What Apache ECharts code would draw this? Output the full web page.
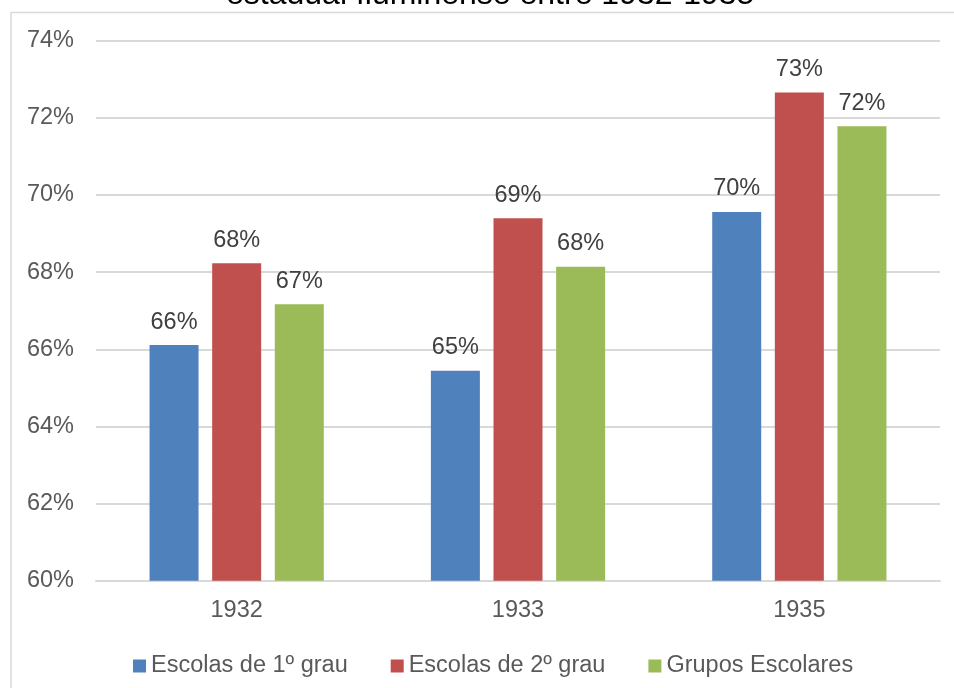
<!DOCTYPE html>
<html>
<head>
<meta charset="utf-8">
<title>Aprovação nas escolas da rede estadual fluminense</title>
<script src="https://cdn.jsdelivr.net/npm/echarts@6/dist/echarts.min.js"></script>
<style>
  html, body { margin: 0; padding: 0; background: #ffffff; }
  #chart { width: 954px; height: 688px; }
</style>
</head>
<body>
<div id="chart"></div>
<script>
// Years shown on the category axis
const years = ['1932', '1933', '1935'];

// Percentage of approved pupils by school type
const escolas1Grau = [66.11, 65.44, 69.56];
const escolas2Grau = [68.23, 69.40, 72.66];
const gruposEscolares = [67.17, 68.14, 71.78];

const seriesNames = ['Escolas de 1º grau', 'Escolas de 2º grau', 'Grupos Escolares'];
const seriesColors = ['#4F81BD', '#C0504D', '#9BBB59'];

// Y axis range (percent)
const yMin = 60, yMax = 74, yStep = 2;

const FONT = '"Liberation Sans", Arial, sans-serif';
const TEXT = '#595959';
const GRID = '#D9D9D9';

const chart = echarts.init(document.getElementById('chart'), null, { renderer: 'canvas' });

function barSeries(name, data, color) {
  return {
    name: name,
    type: 'bar',
    data: data,
    barWidth: 49,
    barGap: '27.8%',
    itemStyle: { color: color },
    label: {
      show: true,
      position: 'top',
      distance: 11,
      color: '#404040',
      fontFamily: FONT,
      fontSize: 23.5,
      formatter: p => Math.round(p.value) + '%'
    }
  };
}

chart.setOption({
  animation: false,
  backgroundColor: '#ffffff',
  color: seriesColors,
  title: {
    text: 'estadual fluminense entre 1932-1935',
    left: 226,
    top: -21,
    padding: 0,
    textStyle: { fontFamily: FONT, fontSize: 32, fontWeight: 'normal', color: '#000000' }
  },
  graphic: [{
    type: 'rect',
    left: 8.5,
    top: 10,
    shape: { width: 1200, height: 1000 },
    style: { fill: 'none', stroke: GRID, lineWidth: 1.5 },
    silent: true
  }],
  grid: { left: 96, right: 14, top: 40.7, bottom: 107.3 },
  legend: {
    data: seriesNames,
    left: 133,
    top: 654,
    padding: 0,
    icon: 'rect',
    itemWidth: 13,
    itemHeight: 13,
    itemGap: 43,
    textStyle: { fontFamily: FONT, fontSize: 23.5, color: TEXT }
  },
  xAxis: {
    type: 'category',
    data: years,
    axisTick: { show: false },
    axisLine: { lineStyle: { color: GRID, width: 2 } },
    axisLabel: { margin: 18, fontFamily: FONT, fontSize: 23.5, color: TEXT }
  },
  yAxis: {
    type: 'value',
    min: yMin,
    max: yMax,
    interval: yStep,
    axisLine: { show: false },
    axisTick: { show: false },
    splitLine: { lineStyle: { color: GRID, width: 2 } },
    axisLabel: { margin: 22, fontFamily: FONT, fontSize: 23.5, color: TEXT, formatter: '{value}%' }
  },
  series: [
    barSeries(seriesNames[0], escolas1Grau, seriesColors[0]),
    barSeries(seriesNames[1], escolas2Grau, seriesColors[1]),
    barSeries(seriesNames[2], gruposEscolares, seriesColors[2])
  ]
});
</script>
</body>
</html>
